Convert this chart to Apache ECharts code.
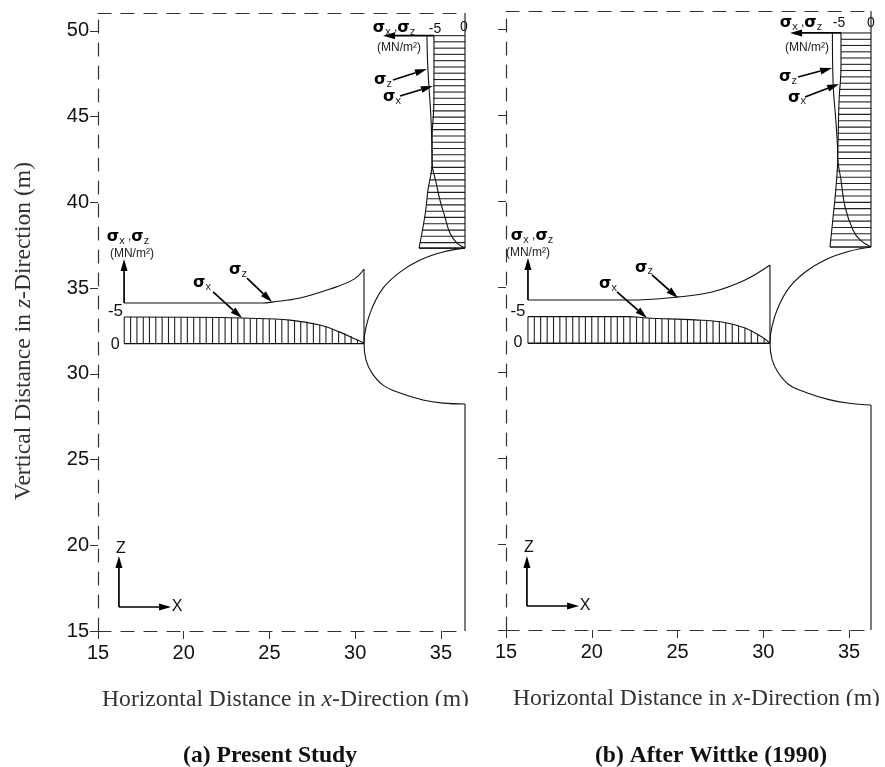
<!DOCTYPE html>
<html><head><meta charset="utf-8">
<style>html,body{margin:0;padding:0;background:#fff}#c{width:885px;height:767px}</style>
<script src="https://cdn.jsdelivr.net/npm/echarts@6/dist/echarts.min.js"></script>
</head><body><div id="c"></div>
<script>
const xTicks=[15,20,25,30,35];
const zTicks=[15,20,25,30,35,40,45,50];
// (a) Present Study
const profileA=[[36.4,37.33],[35.12,37.10],[33.78,36.63],[32.61,35.93],[31.62,35.0],[30.98,33.83],[30.63,32.73],[30.51,31.79],[30.63,30.80],[30.98,30.04],[31.62,29.34],[32.61,28.88],[33.95,28.47],[35.12,28.29],[36.4,28.24]];
const wallLowerA=[[36.4,28.24],[36.4,15]];
const wallUpperA=[[36.4,51.04],[36.4,37.33]];
const sigZWallA=[[16.52,34.13],[24.62,34.13],[25.15,34.18],[26.78,34.42],[28.53,34.94],[29.93,35.52],[30.51,36.11]];
const faceA=[[30.51,36.11],[30.51,31.76]];
const sigXWallA=[[16.52,33.31],[22.11,33.28],[23.4,33.25],[26.2,33.13],[27.94,32.84],[29.11,32.43],[29.99,32.03],[30.51,31.79]];
const baseHA=[[16.52,31.76],[30.51,31.76]];
const sigXRoofA=[[34.59,49.72],[34.59,45.96],[34.48,43.63],[34.48,42.29],[34.71,41.18],[34.94,40.13],[35.23,39.14],[35.52,38.21],[35.93,37.62],[36.4,37.33]];
const sigZRoofA=[[34.18,49.72],[34.24,47.71],[34.42,44.8],[34.48,42.29],[34.24,40.71],[34.07,39.26],[33.72,37.33]];
const baseRoofA=[[33.72,37.33],[36.4,37.33]];
const hatchWallA=[[16.53,33.31],[16.90,33.31],[17.27,33.31],[17.64,33.31],[18.00,33.31],[18.37,33.31],[18.74,33.31],[19.11,33.31],[19.47,33.31],[19.84,33.31],[20.21,33.31],[20.58,33.31],[20.94,33.31],[21.31,33.31],[21.68,33.31],[22.05,33.31],[22.41,33.28],[22.78,33.27],[23.15,33.25],[23.52,33.24],[23.88,33.22],[24.25,33.21],[24.62,33.20],[24.99,33.19],[25.35,33.18],[25.72,33.17],[26.09,33.14],[26.46,33.12],[26.82,33.08],[27.19,33.03],[27.56,32.97],[27.93,32.85],[28.29,32.76],[28.66,32.63],[29.03,32.50],[29.40,32.35],[29.76,32.20],[30.13,32.00],[30.50,31.80]];
const hatchRoofA=[[49.72,34.59],[49.36,34.59],[48.99,34.59],[48.63,34.59],[48.26,34.59],[47.89,34.59],[47.53,34.59],[47.16,34.56],[46.80,34.56],[46.43,34.56],[46.07,34.53],[45.70,34.53],[45.33,34.50],[44.97,34.50],[44.60,34.48],[44.24,34.48],[43.87,34.48],[43.50,34.48],[43.14,34.48],[42.77,34.48],[42.41,34.48],[42.04,34.42],[41.68,34.36],[41.31,34.33],[40.95,34.30],[40.58,34.24],[40.21,34.18],[39.85,34.15],[39.48,34.10],[39.12,34.01],[38.75,33.95],[38.38,33.89],[38.02,33.83],[37.65,33.78],[37.33,33.72]];
const arrowsA=[[34.59,49.72,31.62,49.72],[32.2,47.13,34.18,47.77],[32.61,46.2,34.53,46.78],[16.52,34.13,16.52,36.69],[23.69,35.58,25.15,34.18],[21.71,34.77,23.4,33.25],[16.22,16.4,16.22,19.37],[16.22,16.4,19.26,16.4]];
const labelsA=[[32.26,50.16,'sxz'],[34.65,50.1,'-5',14],[36.34,50.22,'0',14],[32.55,48.99,'mn'],[31.62,47.13,'sz'],[32.14,46.14,'sx'],[16.75,37.97,'sxz'],[16.98,36.98,'mn'],[16.02,33.66,'-5',17],[16.0,31.73,'0',16],[23.16,36.05,'sz'],[21.06,35.29,'sx'],[16.34,19.78,'Z',16],[19.61,16.4,'X',16]];
// (b) After Wittke (1990)
const profileB=[[36.28,37.33],[35.0,37.08],[33.66,36.6],[32.49,35.9],[31.5,34.95],[30.86,33.8],[30.51,32.7],[30.39,31.73],[30.51,30.78],[30.86,30.02],[31.5,29.3],[32.49,28.85],[33.83,28.43],[35.0,28.22],[36.28,28.12]];
const wallLowerB=[[36.28,28.12],[36.28,15]];
const wallUpperB=[[36.28,51.09],[36.28,37.33]];
const sigZWallB=[[16.28,34.24],[22.11,34.24],[25.03,34.42],[27.01,34.71],[28.94,35.41],[30.39,36.28]];
const faceB=[[30.39,36.28],[30.39,31.72]];
const sigXWallB=[[16.28,33.27],[22.11,33.27],[23.22,33.19],[26.02,33.08],[27.59,32.96],[28.94,32.61],[29.93,32.08],[30.39,31.73]];
const baseHB=[[16.28,31.72],[30.39,31.72]];
const sigXRoofB=[[34.53,49.81],[34.53,47.83],[34.42,45.9],[34.36,43.57],[34.34,42.58],[34.53,41.24],[34.77,39.66],[35.23,38.32],[35.64,37.74],[36.28,37.33]];
const sigZRoofB=[[34.03,49.81],[34.07,46.9],[34.24,44.56],[34.34,42.58],[34.24,40.83],[34.07,39.08],[33.89,37.33]];
const baseRoofB=[[33.89,37.33],[36.28,37.33]];
const hatchWallB=[[16.28,33.27],[16.65,33.27],[17.02,33.27],[17.40,33.27],[17.77,33.27],[18.14,33.27],[18.51,33.27],[18.89,33.27],[19.26,33.27],[19.63,33.27],[20.00,33.27],[20.37,33.27],[20.75,33.27],[21.12,33.27],[21.49,33.27],[21.86,33.27],[22.23,33.27],[22.61,33.25],[22.98,33.22],[23.35,33.19],[23.72,33.17],[24.09,33.15],[24.47,33.13],[24.84,33.12],[25.21,33.11],[25.58,33.10],[25.95,33.09],[26.33,33.07],[26.70,33.05],[27.07,33.02],[27.44,32.98],[27.81,32.92],[28.19,32.84],[28.56,32.74],[28.93,32.62],[29.30,32.46],[29.67,32.26],[30.05,32.03],[30.39,31.75]];
const hatchRoofB=[[49.81,34.53],[49.44,34.53],[49.08,34.53],[48.71,34.53],[48.35,34.53],[47.98,34.53],[47.62,34.50],[47.25,34.48],[46.88,34.48],[46.52,34.45],[46.15,34.42],[45.79,34.42],[45.42,34.39],[45.06,34.39],[44.69,34.36],[44.32,34.36],[43.96,34.36],[43.59,34.36],[43.23,34.36],[42.86,34.36],[42.49,34.33],[42.13,34.30],[41.76,34.27],[41.40,34.24],[41.03,34.24],[40.67,34.21],[40.30,34.18],[39.93,34.13],[39.57,34.10],[39.20,34.07],[38.84,34.04],[38.47,34.01],[38.10,33.95],[37.74,33.92],[37.33,33.89]];
const arrowsB=[[34.53,49.81,31.56,49.81],[32.03,47.24,34.01,47.77],[32.43,46.08,34.42,46.84],[16.28,34.24,16.28,36.69],[23.51,35.7,25.03,34.36],[21.47,34.71,23.22,33.19],[16.22,16.4,16.22,19.31],[16.22,16.4,19.26,16.4]];
const labelsB=[[32.2,50.39,'sxz'],[34.42,50.39,'-5',14],[36.28,50.39,'0',14],[32.55,48.94,'mn'],[31.44,47.24,'sz'],[31.97,46.02,'sx'],[16.52,37.97,'sxz'],[16.28,36.98,'mn'],[15.7,33.6,'-5',17],[15.7,31.73,'0',16],[23.05,36.11,'sz'],[20.95,35.17,'sx'],[16.34,19.78,'Z',16],[19.61,16.4,'X',16]];

const INK='#111', DASH='#333', SANS='"Liberation Sans",Arial,sans-serif', SERIF='"Liberation Serif","Times New Roman",serif';
const rich={s:{fontFamily:'"DejaVu Sans"',fontWeight:'bold',fontSize:16,fill:'#000',lineHeight:18},
 u:{fontFamily:SANS,fontSize:11,fill:'#222',verticalAlign:'bottom',lineHeight:14},
 c:{fontFamily:SANS,fontSize:12,fill:'#222'}};
const TXT={sxz:'{s|σ}{u|x}{c| ,}{s|σ}{u|z}',sx:'{s|σ}{u|x}',sz:'{s|σ}{u|z}'};
const DASHES=[13,10];

function line(data,g,smooth,w){return {type:'line',xAxisIndex:g*2,yAxisIndex:g,data,showSymbol:false,symbol:'none',smooth:smooth?0.4:false,clip:false,silent:true,animation:false,lineStyle:{color:INK,width:w||1.1}};}
function hatchV(data,base,g){return {type:'custom',xAxisIndex:g*2,yAxisIndex:g,data,silent:true,clip:false,encode:{x:0,y:1},renderItem:(p,api)=>{const a=api.coord([api.value(0),base]),b=api.coord([api.value(0),api.value(1)]);return {type:'line',shape:{x1:a[0],y1:a[1],x2:b[0],y2:b[1]},style:{stroke:'#222',lineWidth:1.1,fill:null}};}};}
function hatchH(data,zero,g){return {type:'custom',xAxisIndex:g*2,yAxisIndex:g,data,silent:true,clip:false,encode:{x:1,y:0},renderItem:(p,api)=>{const a=api.coord([zero,api.value(0)]),b=api.coord([api.value(1),api.value(0)]);return {type:'line',shape:{x1:a[0],y1:a[1],x2:b[0],y2:b[1]},style:{stroke:'#222',lineWidth:1.1,fill:null}};}};}
function arrows(data,g){return {type:'custom',xAxisIndex:g*2,yAxisIndex:g,data,silent:true,clip:false,encode:{x:[0,2],y:[1,3]},renderItem:(p,api)=>{
 const a=api.coord([api.value(0),api.value(1)]),b=api.coord([api.value(2),api.value(3)]);
 const dx=b[0]-a[0],dy=b[1]-a[1],L=Math.hypot(dx,dy),ux=dx/L,uy=dy/L,h=12,w=3.5,bx=b[0]-ux*h,by=b[1]-uy*h;
 return {type:'group',children:[{type:'line',shape:{x1:a[0],y1:a[1],x2:bx,y2:by},style:{stroke:'#000',lineWidth:1.7}},
  {type:'polygon',shape:{points:[[b[0],b[1]],[bx-uy*w,by+ux*w],[bx+uy*w,by-ux*w]]},style:{fill:'#000'}}]};
}};}
function labels(rows,g){return {type:'custom',xAxisIndex:g*2,yAxisIndex:g,data:rows.map(r=>[r[0],r[1]]),silent:true,clip:false,encode:{x:0,y:1},z:5,renderItem:(p,api)=>{
 const c=api.coord([api.value(0),api.value(1)]),r=rows[p.dataIndex],k=r[2];
 const st={x:c[0],y:c[1],align:'center',verticalAlign:'middle'};
 if(TXT[k]){st.text=TXT[k];st.rich=rich;}
 else if(k==='mn'){st.text='(MN/m²)';st.fontFamily=SANS;st.fontSize=12;st.fill='#222';}
 else {st.text=k;st.fontFamily=SANS;st.fontSize=r[3];st.fill='#111';}
 return {type:'text',style:st};
}};}
function panelSeries(g,P){return [
 line(P.profile,g,true),line(P.wallLower,g),line(P.wallUpper,g),
 line(P.sigZWall,g,true),line(P.face,g),line(P.sigXWall,g,true),line(P.baseH,g,false,1.4),
 line(P.sigXRoof,g,true),line(P.sigZRoof,g,true),line(P.baseRoof,g),
 hatchV(P.hatchWall,P.base,g),hatchH(P.hatchRoof,P.zero,g),arrows(P.arrows,g),labels(P.labels,g)];}
function nameRich(a,b,c,pad){const f=23.6;return {name:'{n|'+a+'}{i|'+b+'}{n|'+c+'}',nameTextStyle:{padding:pad,rich:{n:{fontFamily:SERIF,fontSize:f,fill:'#111'},i:{fontFamily:SERIF,fontStyle:'italic',fontSize:f,fill:'#111'}}}};}
function xAxes(g,max,pad){const base={gridIndex:g,type:'value',min:15,max,splitLine:{show:false}};
 return [Object.assign({},base,{position:'bottom',axisLine:{onZero:false,lineStyle:{color:DASH,type:DASHES,width:1.2}},
   axisTick:{show:true,length:8,customValues:xTicks,lineStyle:{color:DASH}},
   axisLabel:{show:true,margin:12,fontFamily:SANS,fontSize:20,color:'#111',customValues:xTicks},
   nameLocation:'middle',nameGap:57},nameRich('Horizontal Distance in ','x','-Direction (m)',pad)),
  Object.assign({},base,{position:'top',axisLine:{onZero:false,lineStyle:{color:DASH,type:DASHES,width:1.2}},axisTick:{show:false},axisLabel:{show:false}})];}
function yAxis(g,max,showLab){const o={gridIndex:g,type:'value',min:15,max,position:'left',splitLine:{show:false},
  axisLine:{onZero:false,lineStyle:{color:DASH,type:DASHES,width:1.2}},
  axisTick:{show:true,length:8,customValues:zTicks,lineStyle:{color:DASH}},
  axisLabel:{show:showLab,margin:9,fontFamily:SANS,fontSize:20,color:'#111',customValues:zTicks}};
 if(showLab)Object.assign(o,{nameLocation:'middle',nameGap:62,nameRotate:90},nameRich('Vertical Distance in ','z','-Direction (m)',[0,18,0,0]));
 return o;}

const A={profile:profileA,wallLower:wallLowerA,wallUpper:wallUpperA,sigZWall:sigZWallA,face:faceA,sigXWall:sigXWallA,baseH:baseHA,sigXRoof:sigXRoofA,sigZRoof:sigZRoofA,baseRoof:baseRoofA,hatchWall:hatchWallA,hatchRoof:hatchRoofA,arrows:arrowsA,labels:labelsA,base:31.76,zero:36.4};
const B={profile:profileB,wallLower:wallLowerB,wallUpper:wallUpperB,sigZWall:sigZWallB,face:faceB,sigXWall:sigXWallB,baseH:baseHB,sigXRoof:sigXRoofB,sigZRoof:sigZRoofB,baseRoof:baseRoofB,hatchWall:hatchWallB,hatchRoof:hatchRoofB,arrows:arrowsB,labels:labelsB,base:31.72,zero:36.28};

const chart=echarts.init(document.getElementById('c'),null,{renderer:'canvas'});
chart.setOption({animation:false,backgroundColor:'#fff',
 title:[{text:'(a) Present Study',left:265,textAlign:'center',top:739,textStyle:{fontFamily:SERIF,fontWeight:'bold',fontSize:23.6,color:'#111'}},
        {text:'(b) After Wittke (1990)',left:706,textAlign:'center',top:739,textStyle:{fontFamily:SERIF,fontWeight:'bold',fontSize:23.6,color:'#111'}}],
 grid:[{left:98,top:13,width:367,height:618},{left:506,top:11,width:365,height:619}],
 xAxis:[...xAxes(0,36.4,[0,0,0,8]),...xAxes(1,36.28,[0,0,0,16])],
 yAxis:[yAxis(0,51.04,true),yAxis(1,51.09,false)],
 graphic:[{type:'rect',left:95,top:706,z:100,shape:{width:790,height:14},style:{fill:'#fff'}}],
 series:[...panelSeries(0,A),...panelSeries(1,B)]
});
</script></body></html>
